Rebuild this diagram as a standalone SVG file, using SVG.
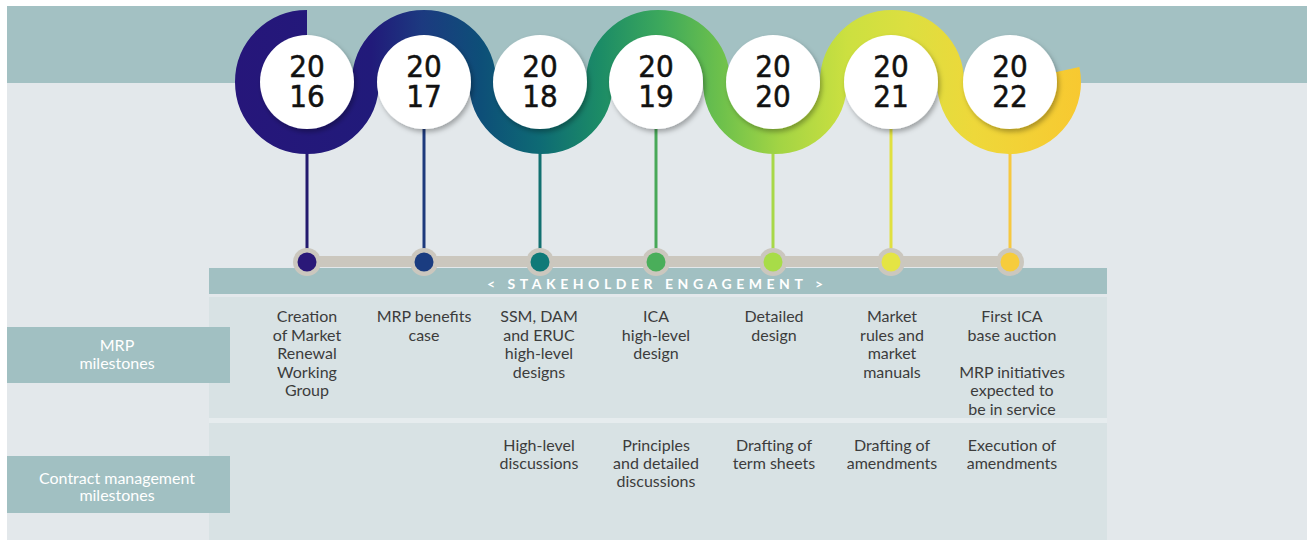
<svg xmlns="http://www.w3.org/2000/svg" width="1307" height="540" viewBox="0 0 1307 540">
<style>
.yr{font-family:"DejaVu Sans Condensed","DejaVu Sans",sans-serif;font-size:31px;fill:#111;text-anchor:middle;stroke:#111;stroke-width:0.5}
.tx{font-family:Lato,"Open Sans",sans-serif;font-size:16px;fill:#3c3c3c;text-anchor:middle}
.lb{font-family:Lato,"Open Sans",sans-serif;font-size:16px;fill:#ffffff;text-anchor:middle}
.band{fill:#a1c0c2}
.disc{fill:#ffffff;filter:url(#sh)}
.vl{stroke-width:3}
.dotbg{fill:#cbc7be}
</style>
<defs>
<linearGradient id="rib" gradientUnits="userSpaceOnUse" x1="235" y1="0" x2="1085" y2="0">
<stop offset="0" stop-color="#26167a"/>
<stop offset="0.16" stop-color="#211a7a"/>
<stop offset="0.22" stop-color="#1c3a80"/>
<stop offset="0.29" stop-color="#0d4f78"/>
<stop offset="0.36" stop-color="#0e6b74"/>
<stop offset="0.43" stop-color="#1c8c66"/>
<stop offset="0.5" stop-color="#3ca85c"/>
<stop offset="0.57" stop-color="#6cc04c"/>
<stop offset="0.64" stop-color="#a2d444"/>
<stop offset="0.72" stop-color="#cce040"/>
<stop offset="0.79" stop-color="#dcdf40"/>
<stop offset="0.87" stop-color="#eed83a"/>
<stop offset="1" stop-color="#f8c830"/>
</linearGradient>
<filter id="sh" x="-20%" y="-20%" width="150%" height="150%">
<feDropShadow dx="2" dy="3" stdDeviation="2.5" flood-color="#000" flood-opacity="0.3"/>
</filter>
</defs>

<rect x="0" y="0" width="1307" height="540" fill="#ffffff"/>
<rect x="7" y="6" width="1300" height="534" fill="#e3e8eb"/>
<rect x="7" y="6" width="1300" height="77" fill="#a3c1c3"/>

<g id="table">
<rect x="209" y="297" width="898" height="121" fill="#d8e2e4"/>
<rect x="209" y="418" width="898" height="5" fill="#e6ecee"/>
<rect x="209" y="423" width="898" height="117" fill="#d8e2e4"/>
</g>

<g id="connectors">
<line class="vl" x1="307" y1="120" x2="307" y2="255" stroke="#231a6e"/>
<line class="vl" x1="424" y1="120" x2="424" y2="255" stroke="#1e3a7c"/>
<line class="vl" x1="540" y1="120" x2="540" y2="255" stroke="#127070"/>
<line class="vl" x1="656" y1="120" x2="656" y2="255" stroke="#48a858"/>
<line class="vl" x1="773" y1="120" x2="773" y2="255" stroke="#a8d848"/>
<line class="vl" x1="891" y1="120" x2="891" y2="255" stroke="#e0e040"/>
<line class="vl" x1="1010" y1="120" x2="1010" y2="255" stroke="#f6c840"/>
<rect x="307" y="256" width="703" height="11" fill="#cbc7be"/>
</g>

<g id="ribbon">
<path d="M307 23.5 A58.5 58.5 0 1 0 365.5 82 A58.5 58.5 0 0 1 482.5 82 A58.5 58.5 0 0 0 599.5 82 A58.5 58.5 0 0 1 716.5 82 A58.5 58.5 0 0 0 833.5 82 A58.5 58.5 0 0 1 950.5 82 A58.5 58.5 0 1 0 1066.2 69.8" fill="none" stroke="url(#rib)" stroke-width="27"/>
</g>

<g id="stakeholder">
<rect class="band" x="209" y="268" width="898" height="26"/>
<text x="655" y="289" font-family="Lato,'Open Sans',sans-serif" font-size="14" font-weight="bold" fill="#ffffff" text-anchor="middle" textLength="336" lengthAdjust="spacing">&lt; STAKEHOLDER ENGAGEMENT &gt;</text>
</g>

<g id="y2016">
<circle class="disc" cx="307" cy="82" r="47"/>
<text class="yr" x="307" y="77">20<tspan x="307" dy="30">16</tspan></text>
<circle class="dotbg" cx="307" cy="262" r="14"/><circle cx="307" cy="262" r="9.5" fill="#2a1878"/>
<text class="tx" x="307" y="322">Creation<tspan x="307" dy="18.5">of Market</tspan><tspan x="307" dy="18.5">Renewal</tspan><tspan x="307" dy="18.5">Working</tspan><tspan x="307" dy="18.5">Group</tspan></text>
</g>
<g id="y2017">
<circle class="disc" cx="424" cy="82" r="47"/>
<text class="yr" x="424" y="77">20<tspan x="424" dy="30">17</tspan></text>
<circle class="dotbg" cx="424" cy="262" r="14"/><circle cx="424" cy="262" r="9.5" fill="#1a3c80"/>
<text class="tx" x="424" y="322">MRP benefits<tspan x="424" dy="18.5">case</tspan></text>
</g>
<g id="y2018">
<circle class="disc" cx="540" cy="82" r="47"/>
<text class="yr" x="540" y="77">20<tspan x="540" dy="30">18</tspan></text>
<circle class="dotbg" cx="540" cy="262" r="14"/><circle cx="540" cy="262" r="9.5" fill="#0f7a78"/>
<text class="tx" x="539" y="322">SSM, DAM<tspan x="539" dy="18.5">and ERUC</tspan><tspan x="539" dy="18.5">high-level</tspan><tspan x="539" dy="18.5">designs</tspan></text>
<text class="tx" x="539" y="451">High-level<tspan x="539" dy="18">discussions</tspan></text>
</g>
<g id="y2019">
<circle class="disc" cx="656" cy="82" r="47"/>
<text class="yr" x="656" y="77">20<tspan x="656" dy="30">19</tspan></text>
<circle class="dotbg" cx="656" cy="262" r="14"/><circle cx="656" cy="262" r="9.5" fill="#4aae5a"/>
<text class="tx" x="656" y="322">ICA<tspan x="656" dy="18.5">high-level</tspan><tspan x="656" dy="18.5">design</tspan></text>
<text class="tx" x="656" y="451">Principles<tspan x="656" dy="18">and detailed</tspan><tspan x="656" dy="18">discussions</tspan></text>
</g>
<g id="y2020">
<circle class="disc" cx="773" cy="82" r="47"/>
<text class="yr" x="773" y="77">20<tspan x="773" dy="30">20</tspan></text>
<circle class="dotbg" cx="773" cy="262" r="14"/><circle cx="773" cy="262" r="9.5" fill="#a8dc48"/>
<text class="tx" x="774" y="322">Detailed<tspan x="774" dy="18.5">design</tspan></text>
<text class="tx" x="774" y="451">Drafting of<tspan x="774" dy="18">term sheets</tspan></text>
</g>
<g id="y2021">
<circle class="disc" cx="891" cy="82" r="47"/>
<text class="yr" x="891" y="77">20<tspan x="891" dy="30">21</tspan></text>
<circle class="dotbg" cx="891" cy="262" r="14"/><circle cx="891" cy="262" r="9.5" fill="#e4e444"/>
<text class="tx" x="892" y="322">Market<tspan x="892" dy="18.5">rules and</tspan><tspan x="892" dy="18.5">market</tspan><tspan x="892" dy="18.5">manuals</tspan></text>
<text class="tx" x="892" y="451">Drafting of<tspan x="892" dy="18">amendments</tspan></text>
</g>
<g id="y2022">
<circle class="disc" cx="1010" cy="82" r="47"/>
<text class="yr" x="1010" y="77">20<tspan x="1010" dy="30">22</tspan></text>
<circle class="dotbg" cx="1010" cy="262" r="14"/><circle cx="1010" cy="262" r="9.5" fill="#f6cc3c"/>
<text class="tx" x="1012" y="322">First ICA<tspan x="1012" dy="18.5">base auction</tspan><tspan x="1012" dy="37">MRP initiatives</tspan><tspan x="1012" dy="18.5">expected to</tspan><tspan x="1012" dy="18.5">be in service</tspan></text>
<text class="tx" x="1012" y="451">Execution of<tspan x="1012" dy="18">amendments</tspan></text>
</g>

<g id="label-mrp">
<rect class="band" x="7" y="327" width="223" height="56"/>
<text class="lb" x="117" y="351">MRP<tspan x="117" dy="17.5">milestones</tspan></text>
</g>
<g id="label-contract">
<rect class="band" x="7" y="456" width="223" height="57"/>
<text class="lb" x="117" y="484">Contract management<tspan x="117" dy="17">milestones</tspan></text>
</g>
</svg>
